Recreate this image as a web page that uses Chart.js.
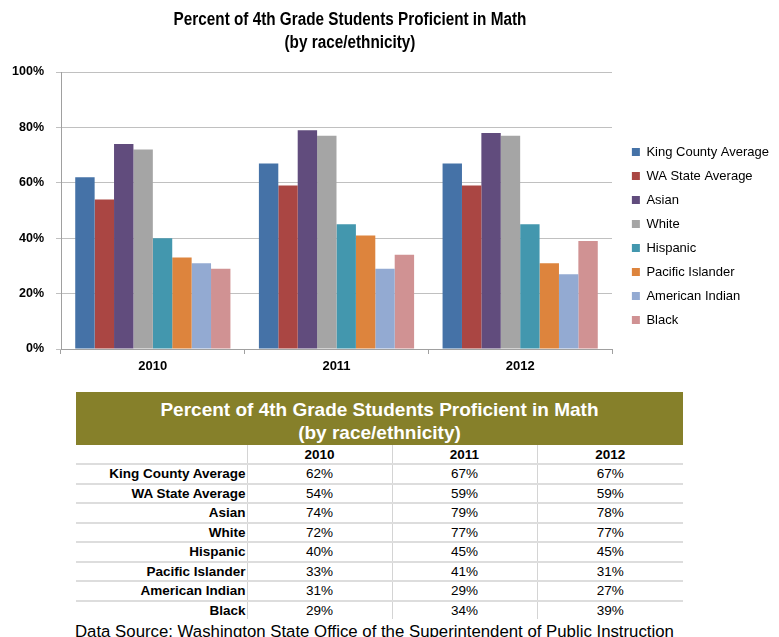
<!DOCTYPE html>
<html>
<head>
<meta charset="utf-8">
<script src="https://cdn.jsdelivr.net/npm/chart.js@4/dist/chart.umd.min.js"></script>
<style>
  body{margin:0;background:#fff;font-family:"Liberation Sans",Arial,sans-serif;color:#000}
  #wrap{position:relative;width:779px;height:637px;overflow:hidden}
  #chart{position:absolute;left:0;top:0}
  #title{position:absolute;left:0;top:8px;width:700px;text-align:center;font-weight:bold;font-size:18px;line-height:23px;transform:scaleX(0.85);transform-origin:350px 0}
  #band{position:absolute;left:76px;top:392px;width:607px;height:53px;background:#86802A;color:#fff;font-weight:bold;font-size:19px;line-height:23px;text-align:center;padding-top:6px;box-sizing:border-box}
  #tbl{position:absolute;left:76px;top:445px;width:607px;border-collapse:collapse;font-size:13.5px}
  #tbl td{height:17.5px;padding:0;border-bottom:2px solid #DDDDDD;text-align:center;line-height:17px}
  #tbl tr.head td{height:18px}
  #tbl tr:last-child td{border-bottom:none}
  #tbl td + td{border-left:1px solid #D4D4D4}
  #tbl td.lab{text-align:right;font-weight:bold;padding-right:1px}
  #tbl tr.head td{font-weight:bold}
  #src{position:absolute;left:75px;top:622px;font-size:16.8px;line-height:19px;white-space:nowrap}
</style>
</head>
<body>
<div id="wrap">
  <canvas id="chart" width="779" height="400"></canvas>
  <div id="title">Percent of 4th Grade Students Proficient in Math<br>(by race/ethnicity)</div>
  <div id="band">Percent of 4th Grade Students Proficient in Math<br>(by race/ethnicity)</div>
  <table id="tbl"></table>
  <div id="src">Data Source: Washington State Office of the Superintendent of Public Instruction</div>
</div>
<script>
// years on the x axis
const years = ["2010", "2011", "2012"];

// groups, in legend / bar order
const groups = ["King County Average", "WA State Average", "Asian", "White",
                "Hispanic", "Pacific Islander", "American Indian", "Black"];

// percent proficient, per group, for 2010 / 2011 / 2012
const kingCounty      = [62, 67, 67];
const waState         = [54, 59, 59];
const asian           = [74, 79, 78];
const white           = [72, 77, 77];
const hispanic        = [40, 45, 45];
const pacificIslander = [33, 41, 31];
const americanIndian  = [31, 29, 27];
const black           = [29, 34, 39];

// y axis ticks
const yTicks = [0, 20, 40, 60, 80, 100];

const seriesValues = [kingCounty, waState, asian, white, hispanic, pacificIslander, americanIndian, black];
const seriesColors = ["#4572A7", "#AA4643", "#614C7D", "#A5A5A5", "#4397AE", "#DD843D", "#93AAD2", "#D09293"];

// table under the chart, built from the same arrays
const tbl = document.getElementById("tbl");
let rows = '<colgroup><col style="width:171px"><col style="width:145px"><col style="width:145px"><col style="width:146px"></colgroup>';
rows += '<tr class="head"><td></td>' + years.map(y => "<td>" + y + "</td>").join("") + "</tr>";
groups.forEach((g, i) => {
  rows += '<tr><td class="lab">' + g + "</td>" + seriesValues[i].map(v => "<td>" + v + "%</td>").join("") + "</tr>";
});
tbl.innerHTML = rows;

const PLOT_LEFT = 61, PLOT_RIGHT = 612, PLOT_BOTTOM = 349;

const ctx = document.getElementById("chart").getContext("2d");
new Chart(ctx, {
  type: "bar",
  data: {
    labels: years,
    datasets: groups.map((g, i) => ({
      label: g,
      data: seriesValues[i],
      backgroundColor: seriesColors[i],
      borderWidth: 0,
      categoryPercentage: 0.845,
      barPercentage: 1.0
    }))
  },
  options: {
    responsive: false,
    animation: false,
    devicePixelRatio: 1,
    layout: { padding: { top: 72, left: 0, right: 0, bottom: 0 } },
    plugins: {
      title: { display: false },
      tooltip: { enabled: false },
      legend: {
        position: "right",
        align: "center",
        maxWidth: 200,
        labels: {
          boxWidth: 8,
          boxHeight: 8,
          padding: 11,
          color: "#000",
          font: { family: "Liberation Sans", size: 13 }
        }
      }
    },
    scales: {
      x: {
        grid: { display: true, drawOnChartArea: false, drawTicks: true, tickLength: 5, color: "#A0A0A0", offset: true },
        border: { color: "#A0A0A0" },
        ticks: { color: "#000", padding: 5, maxRotation: 0, font: { family: "Liberation Sans", size: 13, weight: "bold" } },
        afterFit(s) { s.height = s.chart.height - PLOT_BOTTOM; }
      },
      y: {
        min: 0,
        max: 100,
        afterBuildTicks(s) { s.ticks = yTicks.map(v => ({ value: v })); },
        grid: { color: "#C0C0C0", tickLength: 5 },
        border: { color: "#A0A0A0" },
        ticks: {
          color: "#000",
          padding: 12,
          callback: v => v + "%",
          font: { family: "Liberation Sans", size: 12.5, weight: "bold" }
        },
        afterFit(s) { s.width = PLOT_LEFT; }
      },
      gap: {
        type: "linear",
        position: "right",
        display: true,
        grid: { display: false },
        border: { display: false },
        ticks: { display: false },
        afterFit(s) { s.width = Math.max(0, s.chart.width - PLOT_RIGHT - s.chart.legend.width); }
      }
    }
  }
});
</script>
</body>
</html>
